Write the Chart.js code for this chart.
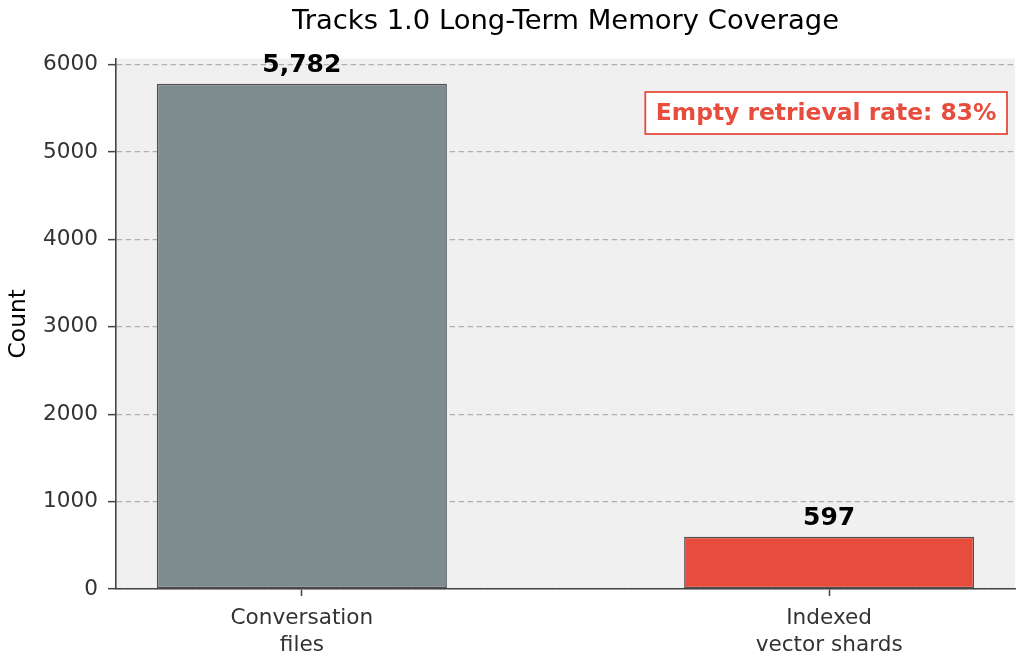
<!DOCTYPE html>
<html>
<head>
<meta charset="utf-8">
<script src="https://cdn.jsdelivr.net/npm/chart.js@4"></script>
<style>
html,body{margin:0;padding:0;background:#fff;}
#wrap{width:1024px;height:668px;position:relative;}
</style>
</head>
<body>
<div id="wrap"><canvas id="c" width="1024" height="668"></canvas></div>
<script>
const categories = [["Conversation", "files"], ["Indexed", "vector shards"]];
const values = [5782, 597];
const barColors = ["#7f8c8d", "#e74c3c"];
const yTicks = [0, 1000, 2000, 3000, 4000, 5000, 6000];
const titleText = "Tracks 1.0 Long-Term Memory Coverage";
const yTitle = "Count";
const annotationText = "Empty retrieval rate: 83%";

Chart.defaults.font.family = "'DejaVu Sans', sans-serif";

const bgPlugin = {
  id: 'bg',
  beforeDraw(chart) {
    const a = chart.chartArea, ctx = chart.ctx;
    ctx.save();
    ctx.fillStyle = '#f0f0f0';
    ctx.fillRect(a.left, a.top, a.right - a.left, a.bottom - a.top);
    ctx.restore();
  }
};

const labelPlugin = {
  id: 'labels',
  afterDatasetsDraw(chart) {
    const ctx = chart.ctx;
    const meta = chart.getDatasetMeta(0);
    ctx.save();
    ctx.font = "bold 25px 'DejaVu Sans'";
    ctx.fillStyle = '#000';
    ctx.textAlign = 'center';
    ctx.textBaseline = 'alphabetic';
    meta.data.forEach((bar, i) => {
      ctx.fillText(values[i].toLocaleString('en-US'), bar.x, bar.y - 12);
    });
    ctx.restore();
  },
  afterDraw(chart) {
    const ctx = chart.ctx, a = chart.chartArea;
    ctx.save();
    // title, centred over the plot area
    ctx.font = "27.4px 'DejaVu Sans'";
    ctx.fillStyle = '#000';
    ctx.textAlign = 'center';
    ctx.textBaseline = 'alphabetic';
    ctx.fillText(titleText, (a.left + a.right) / 2, 29);
    // annotation box
    ctx.font = "bold 23.4px 'DejaVu Sans'";
    const w = ctx.measureText(annotationText).width;
    const bw = w + 21, bh = 42;
    const right = a.right - 8, top = a.top + 33.5;
    const left = right - bw;
    ctx.fillStyle = '#fff';
    ctx.fillRect(left, top, bw, bh);
    ctx.strokeStyle = '#e74c3c';
    ctx.lineWidth = 1.8;
    ctx.strokeRect(left, top, bw, bh);
    ctx.fillStyle = '#e74c3c';
    ctx.textAlign = 'center';
    ctx.textBaseline = 'middle';
    ctx.fillText(annotationText, left + bw / 2, top + bh / 2 + 1);
    ctx.restore();
  }
};

new Chart(document.getElementById('c'), {
  type: 'bar',
  data: {
    datasets: [{
      data: values.map((v, i) => ({ x: i, y: v })),
      backgroundColor: barColors,
      borderColor: '#4f4f4f',
      borderWidth: 1.5,
      borderSkipped: false,
      categoryPercentage: 1,
      barPercentage: 0.55
    }]
  },
  options: {
    responsive: false,
    animation: false,
    devicePixelRatio: 1,
    layout: { padding: { left: 0, right: 9, top: 58.5, bottom: 0 } },
    plugins: {
      legend: { display: false },
      tooltip: { enabled: false },
      title: { display: false }
    },
    scales: {
      x: {
        type: 'linear',
        offset: false,
        min: -0.3525,
        max: 1.3525,
        afterBuildTicks(scale) {
          scale.ticks = categories.map((_, i) => ({ value: i }));
        },
        afterFit(scale) { scale.height = 79; },
        ticks: {
          callback: (v) => categories[v],
          color: '#333',
          font: { size: 21.6, lineHeight: 1.25 },
          padding: 9,
          maxRotation: 0,
          autoSkip: false
        },
        grid: {
          offset: false,
          drawOnChartArea: false,
          drawTicks: true,
          tickLength: 7,
          tickColor: '#444',
          tickWidth: 1.5
        },
        border: { display: true, color: '#444', width: 1.6 }
      },
      y: {
        type: 'linear',
        min: 0,
        max: 6071,
        afterBuildTicks(scale) {
          scale.ticks = yTicks.map(v => ({ value: v }));
        },
        afterFit(scale) { scale.width = 116; },
        ticks: {
          callback: (v) => String(v),
          color: '#333',
          font: { size: 21.6 },
          padding: 10
        },
        grid: {
          color: '#b0b0b0',
          lineWidth: 1.3,
          drawTicks: true,
          tickLength: 8,
          tickColor: '#444',
          tickWidth: 1.5
        },
        border: { display: true, color: '#444', width: 1.6, dash: [5.5, 3.5] },
        title: {
          display: true,
          text: yTitle,
          color: '#000',
          font: { size: 23.4 },
          padding: { top: 5, bottom: 0 }
        }
      }
    }
  },
  plugins: [bgPlugin, labelPlugin]
});
</script>
</body>
</html>
